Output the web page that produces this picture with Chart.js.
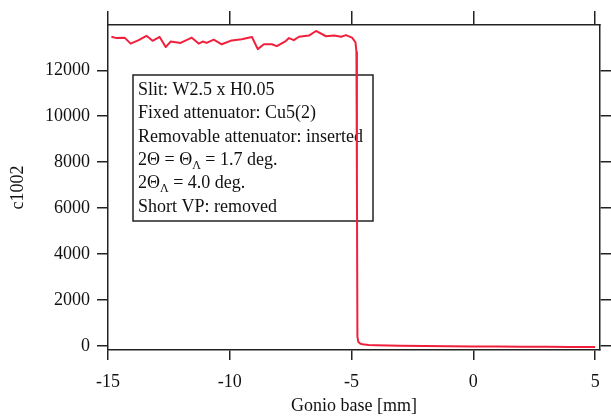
<!DOCTYPE html>
<html>
<head>
<meta charset="utf-8">
<script src="https://cdn.jsdelivr.net/npm/chart.js@4.4.0/dist/chart.umd.min.js"></script>
<style>
  body { margin: 0; background: #fff; }
  #wrap { width: 611px; height: 417px; }
</style>
</head>
<body>
<div id="wrap"><canvas id="scanChart"></canvas></div>
<script>
// gonio base position [mm]
const gonioBase = [
  -14.86, -14.65, -14.32, -14.07, -13.74, -13.42, -13.17, -12.88, -12.63, -12.43,
  -12.02, -11.56, -11.28, -11.11, -10.95, -10.66, -10.33, -9.92, -9.51, -9.09,
  -8.85, -8.60, -8.27, -8.07, -7.70, -7.57, -7.37, -7.16, -6.75, -6.46,
  -6.05, -5.72, -5.43, -5.23, -4.98, -4.84, -4.80, -4.78, -4.76, -4.72,
  -4.65, -4.55, -4.30, -4.00, -3.50, -3.00, -2.00, -1.00, 0.00, 1.00,
  2.00, 3.00, 4.00, 5.00
];
// counts c1002
const c1002 = [
  13460, 13400, 13420, 13160, 13310, 13500, 13280, 13450, 13010, 13250,
  13190, 13420, 13160, 13250, 13190, 13330, 13130, 13300, 13350, 13450,
  12920, 13130, 13130, 13050, 13270, 13400, 13310, 13460, 13510, 13710,
  13480, 13510, 13460, 13530, 13420, 13220, 12800, 7000, 400, 170,
  110, 75, 45, 35, 25, 15, 0, -10, -20, -25,
  -30, -35, -40, -45
];

const xTickValues = [-15, -10, -5, 0, 5];
const yTickValues = [0, 2000, 4000, 6000, 8000, 10000, 12000];

// text in the info box; [text, isSubscript]
const boxLines = [
  [['Slit: W2.5 x H0.05']],
  [['Fixed attenuator: Cu5(2)']],
  [['Removable attenuator: inserted']],
  [['2Θ = Θ'], ['Λ', true], [' = 1.7 deg.']],
  [['2Θ'], ['Λ', true], [' = 4.0 deg.']],
  [['Short VP: removed']]
];

const FONT = "'Liberation Serif', 'Times New Roman', serif";
const INK = '#222';

// draws the info box under the red line
const infoBox = {
  id: 'infoBox',
  beforeDatasetsDraw(chart) {
    const ctx = chart.ctx;
    const a = chart.chartArea;
    const left = a.left + 25, top = a.top + 50;
    ctx.save();
    ctx.strokeStyle = INK;
    ctx.lineWidth = 1.5;
    ctx.strokeRect(left, top, 240, 146);
    ctx.fillStyle = '#111';
    ctx.textBaseline = 'alphabetic';
    boxLines.forEach((parts, i) => {
      let x = left + 5;
      const y = top + 20 + i * 23.3;
      parts.forEach(p => {
        ctx.font = (p[1] ? '12px ' : '18px ') + FONT;
        ctx.fillText(p[0], x, p[1] ? y + 4 : y);
        x += ctx.measureText(p[0]).width;
      });
    });
    ctx.restore();
  }
};

function axisTicks(values) {
  return scale => { scale.ticks = values.map(v => ({ value: v })); };
}

const ctx = document.getElementById('scanChart').getContext('2d');
new Chart(ctx, {
  type: 'line',
  data: {
    datasets: [{
      data: gonioBase.map((x, i) => ({ x: x, y: c1002[i] })),
      borderColor: '#f0203c',
      borderWidth: 2,
      borderJoinStyle: 'round',
      pointRadius: 0,
      tension: 0,
      fill: false,
      xAxisID: 'x',
      yAxisID: 'y'
    }]
  },
  options: {
    responsive: true,
    maintainAspectRatio: false,
    animation: false,
    plugins: { legend: { display: false }, tooltip: { enabled: false } },
    layout: { padding: 0 },
    scales: {
      x: {
        type: 'linear', position: 'bottom', min: -15, max: 5.2,
        afterBuildTicks: axisTicks(xTickValues),
        afterFit: s => { s.height = 67; },
        border: { display: true, color: INK, width: 1.5 },
        grid: { drawOnChartArea: false, drawTicks: true, tickLength: 10, color: INK, lineWidth: 1.5 },
        ticks: { color: '#111', font: { family: FONT, size: 18 }, padding: 11, callback: v => String(v) },
        title: { display: true, text: 'Gonio base [mm]', color: '#111', font: { family: FONT, size: 18 }, padding: { top: 0, bottom: 0 } }
      },
      x2: {
        type: 'linear', position: 'top', min: -15, max: 5.2,
        afterBuildTicks: axisTicks(xTickValues),
        afterFit: s => { s.height = 25; },
        border: { display: true, color: INK, width: 1.5 },
        grid: { drawOnChartArea: false, drawTicks: true, tickLength: 14, color: INK, lineWidth: 1.5 },
        ticks: { display: false }
      },
      y: {
        type: 'linear', position: 'left', min: -175, max: 13970,
        afterBuildTicks: axisTicks(yTickValues),
        afterFit: s => { s.width = 108; },
        border: { display: true, color: INK, width: 1.5 },
        grid: { drawOnChartArea: false, drawTicks: true, tickLength: 11, color: INK, lineWidth: 1.5 },
        ticks: { color: '#111', font: { family: FONT, size: 18 }, padding: 7, callback: v => String(v) },
        title: { display: true, text: 'c1002', color: '#111', font: { family: FONT, size: 18 }, padding: { top: 7, bottom: 0 } }
      },
      y2: {
        type: 'linear', position: 'right', min: -175, max: 13970,
        afterBuildTicks: axisTicks(yTickValues),
        afterFit: s => { s.width = 11; },
        border: { display: true, color: INK, width: 1.5 },
        grid: { drawOnChartArea: false, drawTicks: true, tickLength: 11, color: INK, lineWidth: 1.5 },
        ticks: { display: false }
      }
    }
  },
  plugins: [infoBox]
});
</script>
</body>
</html>
